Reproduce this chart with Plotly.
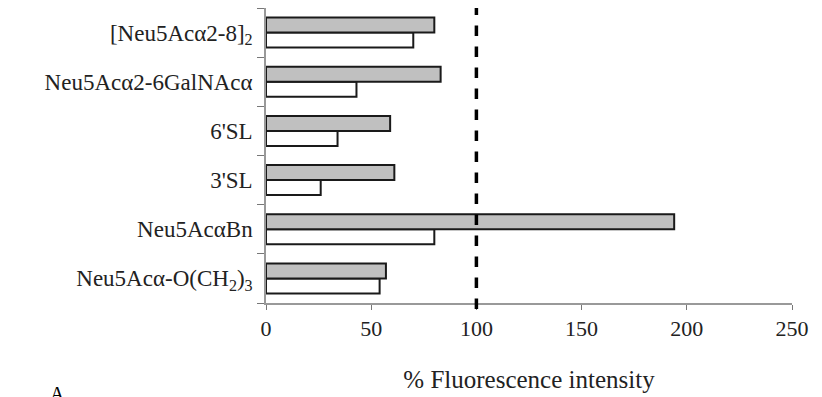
import plotly.graph_objects as go

# Sialoside ligands, listed bottom to top
ligands = [
    "Neu5Acα-O(CH<sub>2</sub>)<sub>3</sub>",
    "Neu5AcαBn",
    "3'SL",
    "6'SL",
    "Neu5Acα2-6GalNAcα",
    "[Neu5Acα2-8]<sub>2</sub>",
]
# % fluorescence intensity for the two conditions
white_series = [54, 80, 26, 34, 43, 70]
gray_series = [57, 194, 61, 59, 83, 80]
x_ticks = [0, 50, 100, 150, 200, 250]
reference_level = 100

serif = "Liberation Serif, Times New Roman, serif"

fig = go.Figure()
fig.add_trace(go.Bar(
    y=ligands, x=white_series, orientation="h",
    marker=dict(color="white", line=dict(color="#1a1a1a", width=2)),
    showlegend=False,
))
fig.add_trace(go.Bar(
    y=ligands, x=gray_series, orientation="h",
    marker=dict(color="#c0c0c0", line=dict(color="#1a1a1a", width=2)),
    showlegend=False,
))

# dashed reference line at 100 %
fig.add_shape(
    type="line", xref="x", yref="paper",
    x0=reference_level, x1=reference_level, y0=-0.02, y1=1.0,
    line=dict(color="black", width=3.5, dash="dash"),
)

fig.add_annotation(
    text="A", xref="paper", yref="paper", x=-0.415, y=-0.265,
    xanchor="left", yanchor="top", showarrow=False,
    font=dict(family=serif, size=20, color="black"),
)

fig.update_layout(
    width=822, height=397,
    margin=dict(l=266, r=30, t=8, b=92),
    paper_bgcolor="white", plot_bgcolor="white",
    barmode="group", bargap=0.39, bargroupgap=0,
    font=dict(family=serif, color="#222", size=22),
    xaxis=dict(
        range=[0, 250], tickvals=x_ticks, ticks="outside", ticklen=5,
        tickcolor="#777", showline=True, linecolor="#999", linewidth=1.5,
        showgrid=False, zeroline=False,
        tickfont=dict(family=serif, size=22, color="#222"),
        title=dict(text="% Fluorescence intensity", standoff=30,
                   font=dict(family=serif, size=25, color="#222")),
    ),
    yaxis=dict(
        type="category", range=[-0.5, 5.5], tickson="boundaries",
        ticks="outside", ticklen=7, tickcolor="#777",
        showline=True, linecolor="#999", linewidth=1.5,
        showgrid=False, ticklabelstandoff=7,
        tickfont=dict(family=serif, size=23, color="#222"),
    ),
)

fig.write_html("out.html")
